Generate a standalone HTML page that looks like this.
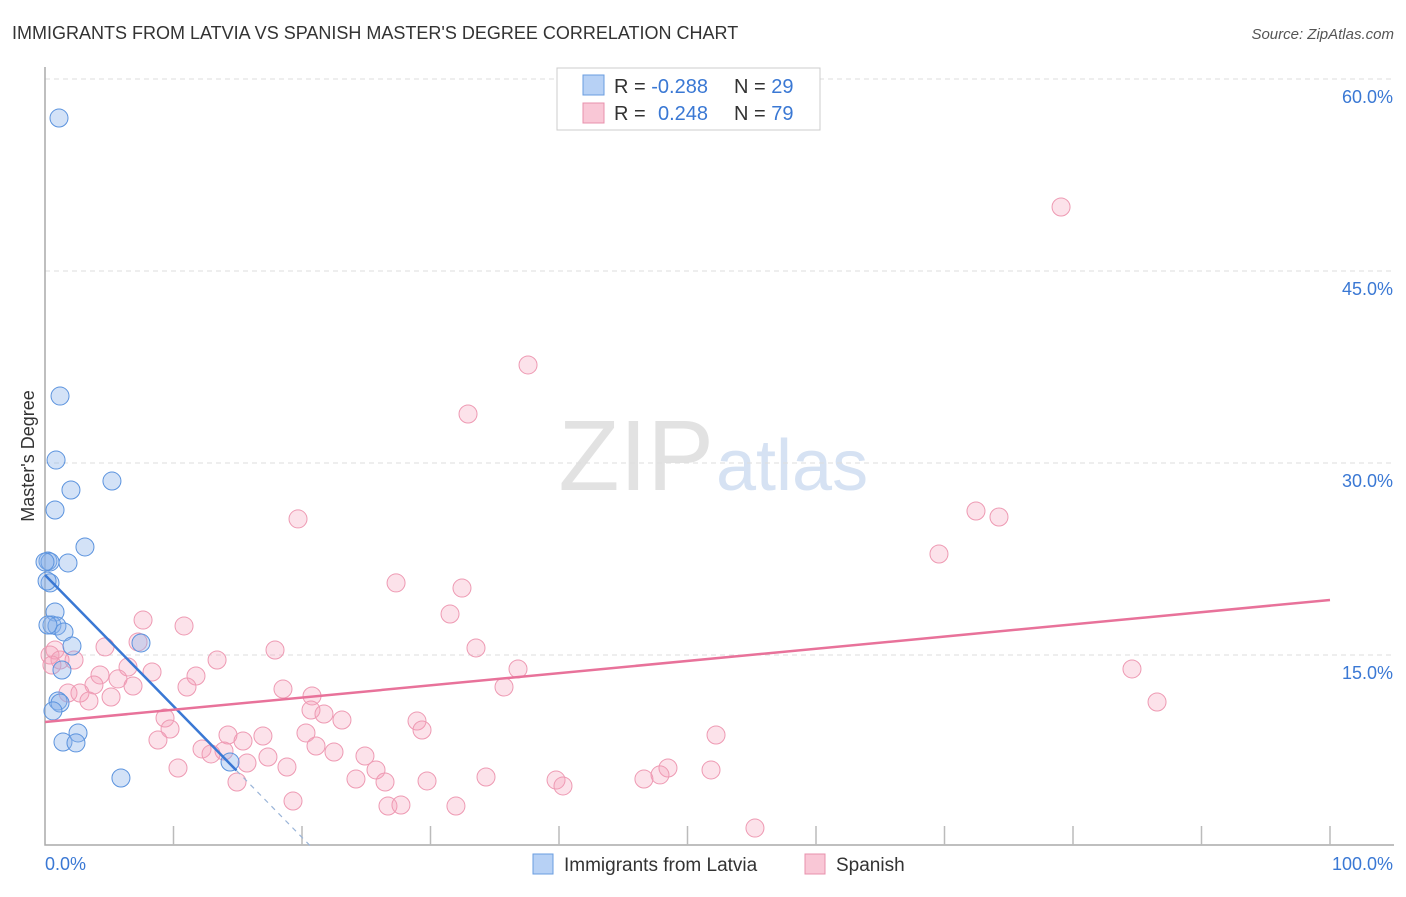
<!DOCTYPE html>
<html><head><meta charset="utf-8"><style>
body{margin:0;background:#fff;font-family:"Liberation Sans",sans-serif;}
svg text{font-family:"Liberation Sans",sans-serif;}
</style></head><body>
<svg id="c" width="1406" height="892">
<text x="12" y="39" font-size="18" fill="#333">IMMIGRANTS FROM LATVIA VS SPANISH MASTER'S DEGREE CORRELATION CHART</text>
<text x="1394" y="39" font-size="15" fill="#555" text-anchor="end" font-style="italic">Source: ZipAtlas.com</text>
<text x="34" y="456" font-size="18" fill="#333" text-anchor="middle" transform="rotate(-90 34 456)">Master's Degree</text>
<text x="714" y="490" font-size="100" fill="#e2e2e2" text-anchor="end" font-family="Liberation Serif">ZIP</text>
<text x="716" y="490" font-size="72" fill="#d6e2f3">atlas</text>
<g id="grid"></g><g id="pts"></g><g id="lines"></g>
<g>
<rect x="557" y="68" width="263" height="62" fill="#fff" stroke="#ccc"/>
<rect x="583" y="75" width="21" height="20" fill="#b7d1f5" stroke="#6a9de0"/>
<rect x="583" y="103" width="21" height="20" fill="#f9c7d6" stroke="#e890ac"/>
<text x="614" y="93" font-size="20" fill="#333">R = <tspan fill="#3a78d4">-0.288</tspan></text>
<text x="734" y="93" font-size="20" fill="#333">N = <tspan fill="#3a78d4">29</tspan></text>
<text x="614" y="120" font-size="20" fill="#333">R = <tspan fill="#3a78d4" x="658">0.248</tspan></text>
<text x="734" y="120" font-size="20" fill="#333">N = <tspan fill="#3a78d4">79</tspan></text>
</g>
<g>
<rect x="533" y="854" width="20" height="20" fill="#b7d1f5" stroke="#6a9de0"/>
<text x="564" y="871" font-size="19" fill="#333">Immigrants from Latvia</text>
<rect x="805" y="854" width="20" height="20" fill="#f9c7d6" stroke="#e890ac"/>
<text x="836" y="871" font-size="19" fill="#333">Spanish</text>
</g>
</svg>
<script>
const yTicks=[15,30,45,60];
const yTickLabels=["15.0%","30.0%","45.0%","60.0%"];
const latviaX=[1.09,1.17,0.86,2.02,5.21,0.78,3.11,0.23,0.39,1.79,0.39,0.78,0.54,0.93,1.48,2.10,7.47,1.32,1.01,1.17,0.62,2.57,1.40,2.41,5.91,14.4,0.23,0.16,0.0];
const latviaY=[56.95,35.23,30.23,27.89,28.59,26.33,23.44,22.34,22.27,22.19,20.63,18.36,17.34,17.27,16.80,15.70,15.94,13.83,11.41,11.25,10.63,8.91,8.20,8.13,5.39,6.64,17.34,20.78,22.27];
const spanishPx=[[1061,207],[528,365],[468,414],[976,511],[999,517],[298,519],[939,554],[396,583],[462,588],[450,614],[143,620],[184,626],[138,642],[275,650],[476,648],[105,647],[55,650],[50,655],[60,660],[74,660],[217,660],[52,665],[128,667],[152,672],[518,669],[1132,669],[100,675],[196,676],[118,679],[94,685],[133,686],[187,687],[283,689],[504,687],[68,693],[80,693],[111,697],[89,701],[312,696],[1157,702],[311,710],[324,714],[165,718],[342,720],[417,721],[422,730],[170,729],[228,735],[263,736],[306,733],[716,735],[158,740],[243,741],[316,746],[202,749],[224,751],[211,754],[334,752],[268,757],[365,756],[247,763],[178,768],[287,767],[376,770],[668,768],[711,770],[660,775],[486,777],[556,780],[644,779],[356,779],[427,781],[385,782],[563,786],[237,782],[293,801],[388,806],[401,805],[456,806],[755,828]];
const spanishX=spanishPx.map(p=>+((p[0]-45)/12.85).toFixed(2));
const spanishY=spanishPx.map(p=>+((847-p[1])/12.8).toFixed(2));
const latviaFit=[21.25,-1.025];
const spanishFit=[9.77,0.0953];
const X=v=>45+v*12.85, Y=v=>847-v*12.8;
const NS="http://www.w3.org/2000/svg";
function mk(tag,attrs,parent){const e=document.createElementNS(NS,tag);for(const k in attrs)e.setAttribute(k,attrs[k]);parent.appendChild(e);return e;}
const g=document.getElementById('grid');
yTicks.forEach((t,i)=>{
 const l=mk('line',{x1:45,x2:1394,y1:Y(t),y2:Y(t),stroke:'#ddd','stroke-dasharray':'5,4'},g);
 
 
 const tx=mk('text',{x:1393,y:Y(t)+24,'font-size':18,fill:'#3a78d4','text-anchor':'end'},g);
 tx.textContent=yTickLabels[i];
 
 
});
const ax=mk('path',{d:'M45,67 V845 H1394',stroke:'#aaa',fill:'none','stroke-width':1.5},g);


for(let i=1;i<=10;i++){const t=mk('line',{x1:45+i*128.5,x2:45+i*128.5,y1:826,y2:845,stroke:'#bbb','stroke-width':1.5},g);
 
 }
const x0=mk('text',{x:45,y:870,'font-size':18,fill:'#3a78d4'},g);x0.textContent='0.0%';


const x1=mk('text',{x:1393,y:870,'font-size':18,fill:'#3a78d4','text-anchor':'end'},g);x1.textContent='100.0%';


const P=document.getElementById('pts');
spanishX.forEach((x,i)=>{const c=mk('circle',{cx:X(x),cy:Y(spanishY[i]),r:9,fill:'rgba(244,160,185,0.3)',stroke:'#ee9ab3','stroke-width':1},P);
 
 });
latviaX.forEach((x,i)=>{const c=mk('circle',{cx:X(x),cy:Y(latviaY[i]),r:9,fill:'rgba(140,180,235,0.38)',stroke:'#5b93de','stroke-width':1},P);
 
 });
const L=document.getElementById('lines');
const bl=v=>latviaFit[0]+latviaFit[1]*v, sl=v=>spanishFit[0]+spanishFit[1]*v;
const a=mk('line',{x1:X(0),y1:Y(bl(0)),x2:X(14.9),y2:Y(bl(14.9)),stroke:'#3a78d4','stroke-width':2.5},L);


const b=mk('line',{x1:X(14.9),y1:Y(bl(14.9)),x2:X(20.7),y2:Y(bl(20.7)),stroke:'#99b4d8','stroke-width':1.2,'stroke-dasharray':'5,5'},L);


const s=mk('line',{x1:X(0),y1:Y(sl(0)),x2:X(100),y2:Y(sl(100)),stroke:'#e8729a','stroke-width':2.5},L);


</script>
</body></html>
